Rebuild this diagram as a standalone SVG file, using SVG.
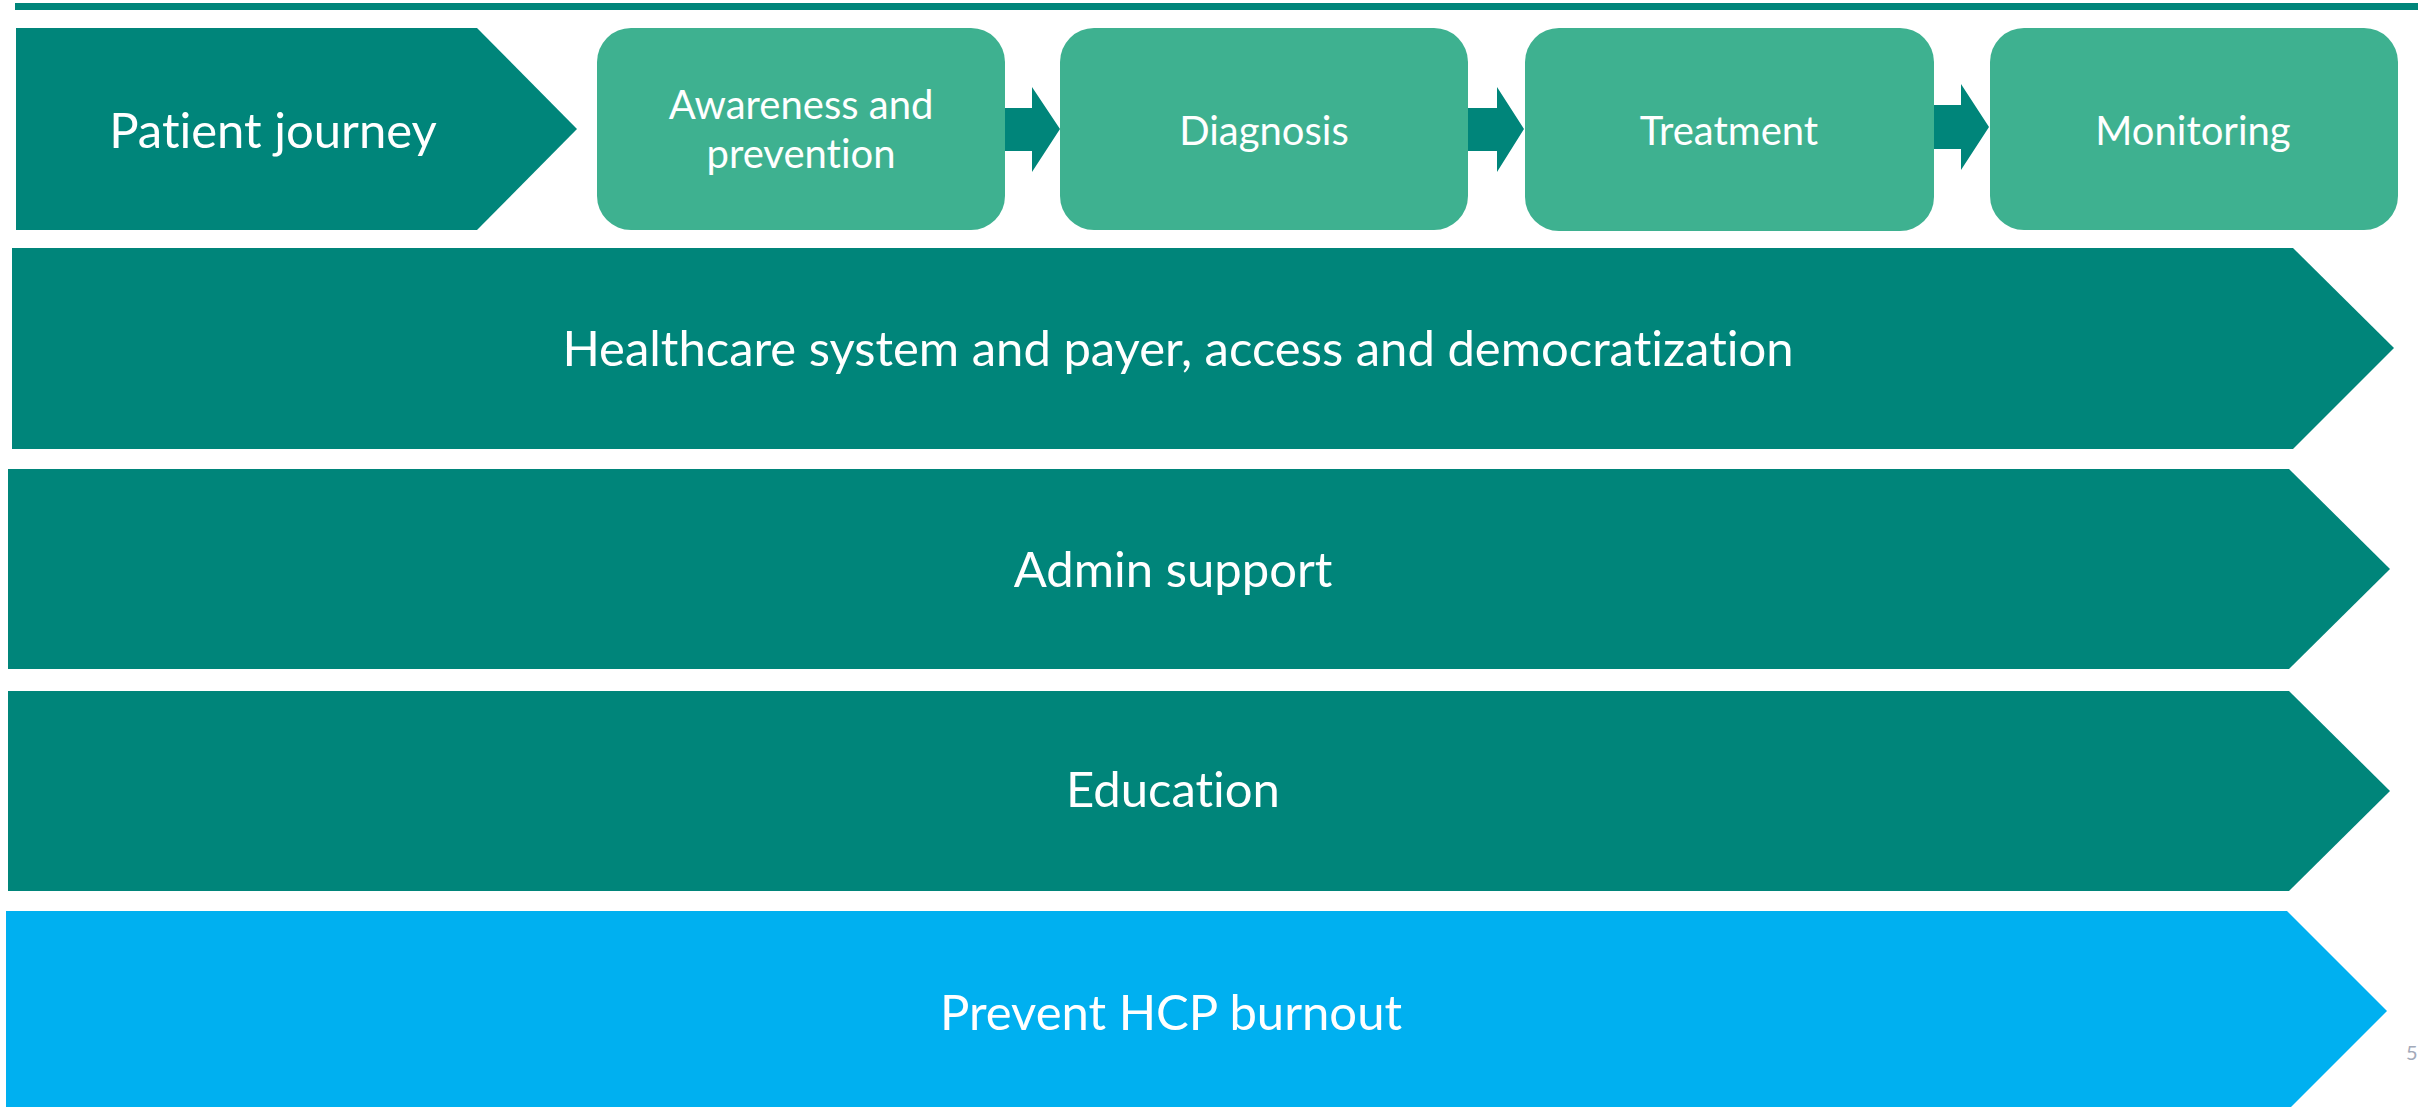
<svg xmlns="http://www.w3.org/2000/svg" width="2433" height="1107" viewBox="0 0 2433 1107">
<style>
  .teal { fill: #00857A; }
  .green { fill: #3EB190; }
  .blue { fill: #00B0F0; }
  .lbl { font-family: Lato, "Open Sans", "Liberation Sans", sans-serif; fill: #FFFFFF; text-anchor: middle; font-variant-ligatures: none; }
  .big { font-size: 49px; }
  .small { font-size: 40px; }
  .pg { font-family: Lato, "Liberation Sans", sans-serif; font-size: 20px; fill: #A3AABA; }
</style>
<rect width="2433" height="1107" fill="#FFFFFF"/>
<rect id="top-rule" x="15" y="3" width="2403" height="7" class="teal"/>

<g id="patient-journey">
  <polygon class="teal" points="16,28 477,28 577,129 477,230 16,230"/>
  <text class="lbl big" x="273" y="148">Patient journey</text>
</g>
<g id="awareness">
  <rect class="green" x="597" y="28" width="408" height="202" rx="34" ry="34"/>
  <text class="lbl small" x="801" y="119">Awareness and</text>
  <text class="lbl small" x="801" y="168">prevention</text>
</g>
<g id="diagnosis">
  <rect class="green" x="1060" y="28" width="408" height="202" rx="34" ry="34"/>
  <text class="lbl small" x="1264" y="145">Diagnosis</text>
</g>
<g id="treatment">
  <rect class="green" x="1525" y="28" width="409" height="203" rx="34" ry="34"/>
  <text class="lbl small" x="1729" y="145">Treatment</text>
</g>
<g id="monitoring">
  <rect class="green" x="1990" y="28" width="408" height="202" rx="34" ry="34"/>
  <text class="lbl small" x="2193" y="145">Monitoring</text>
</g>

<g id="connectors">
  <polygon class="teal" points="1005,108 1032,108 1032,87 1060,129 1032,172 1032,151 1005,151"/>
  <polygon class="teal" points="1468,108 1497,108 1497,87 1524,129 1497,172 1497,151 1468,151"/>
  <polygon class="teal" points="1934,105 1961,105 1961,84 1989,127 1961,170 1961,149 1934,149"/>
</g>

<g id="healthcare">
  <polygon class="teal" points="12,248 2293,248 2394,348 2293,449 12,449"/>
  <text class="lbl big" x="1178" y="366">Healthcare system and payer, access and democratization</text>
</g>
<g id="admin">
  <polygon class="teal" points="8,469 2289,469 2390,569 2289,669 8,669"/>
  <text class="lbl big" x="1173" y="587">Admin support</text>
</g>
<g id="education">
  <polygon class="teal" points="8,691 2289,691 2390,791 2289,891 8,891"/>
  <text class="lbl big" x="1173" y="807">Education</text>
</g>
<g id="burnout">
  <polygon class="blue" points="6,911 2287,911 2387,1011 2287,1111 6,1111"/>
  <text class="lbl big" x="1171" y="1030">Prevent HCP burnout</text>
</g>
<text id="page-number" class="pg" x="2406" y="1060">5</text>
</svg>
